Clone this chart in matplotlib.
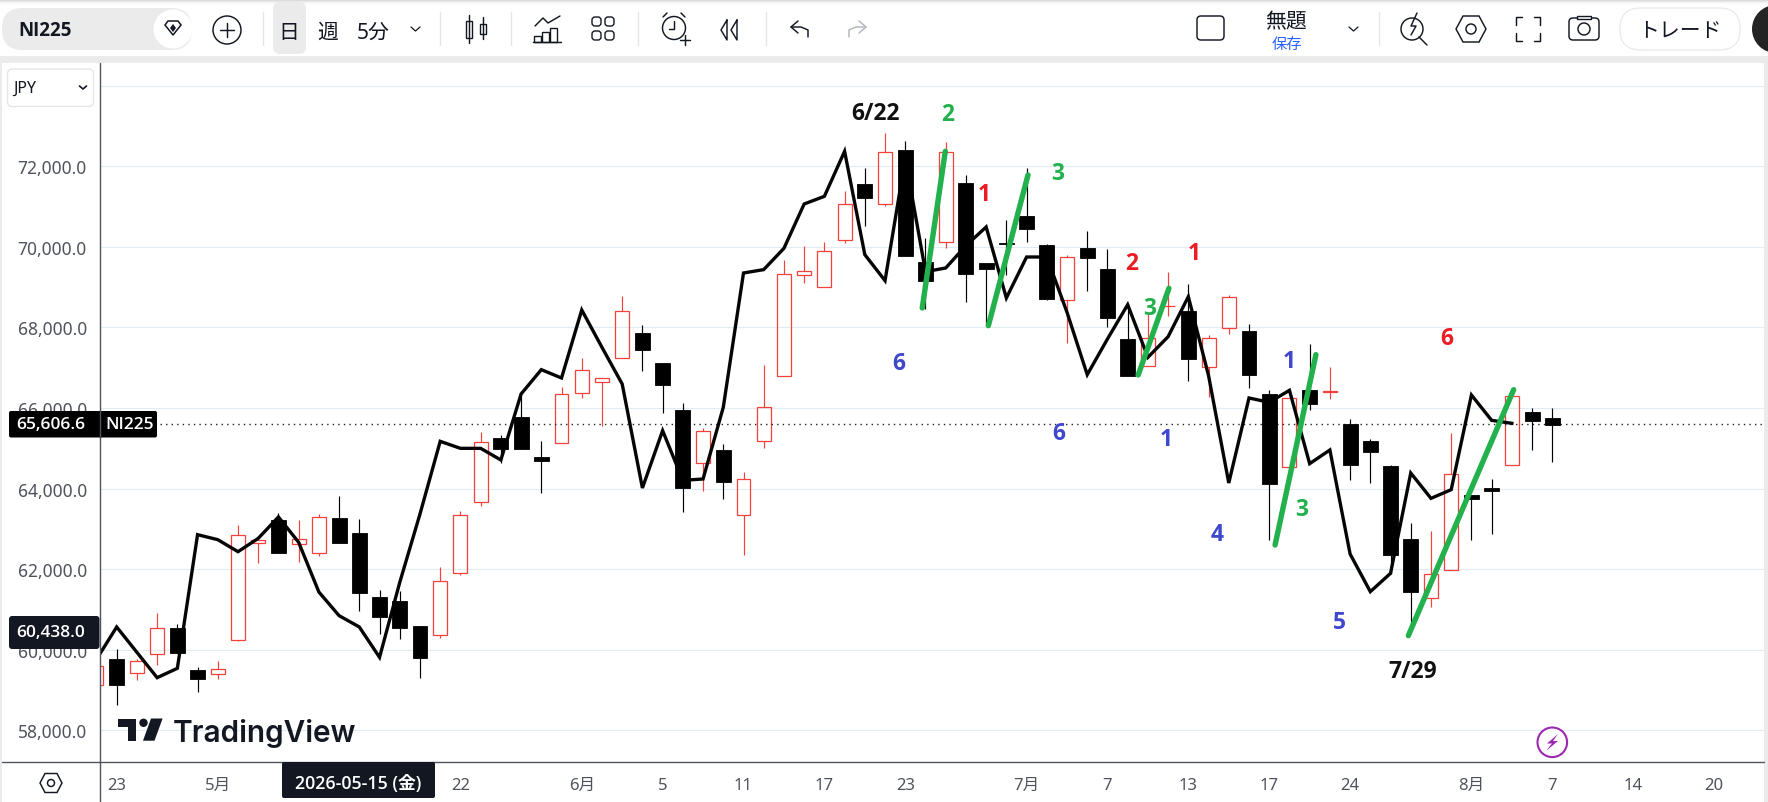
import matplotlib
matplotlib.use("Agg")
import matplotlib.pyplot as plt
from matplotlib.patches import Rectangle, FancyBboxPatch, Circle, Polygon

# ---------- data ----------
bar_index = list(range(-1, 72))
opens = [59118, 59772, 59416, 59887, 60533, 59490, 59391, 60251, 62659, 63221,
         62617, 62394, 63263, 62899, 61302, 61211, 60582, 60375, 61915, 63660,
         65248, 65778, 64777, 65124, 66365, 66638, 67234, 67863, 67118, 65952,
         64628, 64959, 63337, 65174, 66788, 69294, 68997, 70163, 71553, 71057,
         72405, 69625, 70113, 71586, 69600, 70089, 70767, 70047, 68674, 69973,
         69451, 67714, 67036, 68525, 68409, 67011, 67979, 67912, 66349, 64545,
         66448, 66407, 65604, 65182, 64562, 62750, 61277, 61972, 63842, 64016,
         64578, 65894, 65753]
highs = [59600, 60020, 59772, 60913, 60640, 59573, 59714, 63097, 62725, 63395,
         63221, 63370, 63817, 63246, 61484, 61459, 60582, 62055, 63437, 65397,
         65331, 66432, 65174, 66514, 67234, 66738, 68773, 68061, 67118, 66125,
         65505, 65108, 64405, 67069, 69675, 70014, 70113, 71379, 71958, 72827,
         72628, 70221, 72595, 71785, 69600, 70668, 71958, 70064, 69799, 70395,
         69948, 68583, 68376, 69377, 69071, 67813, 68806, 68086, 66440, 66241,
         67590, 67019, 65728, 65232, 64587, 63147, 62949, 65381, 63842, 64239,
         66291, 65993, 65993]
lows = [59100, 58638, 59258, 59631, 59929, 58960, 59275, 60218, 62154, 62411,
        62187, 62336, 62659, 60963, 60392, 60268, 59308, 60301, 61865, 63577,
        64628, 64992, 63892, 65124, 66258, 65563, 67234, 66928, 65877, 63428,
        63950, 63743, 62353, 65017, 66788, 69112, 68997, 70105, 70527, 71023,
        69783, 68459, 69981, 68641, 68045, 69311, 70122, 68690, 67615, 68906,
        68012, 66804, 67036, 68285, 66680, 66283, 67838, 66498, 62725, 64545,
        65952, 66233, 64214, 64140, 61881, 60558, 61071, 61972, 62733, 62882,
        64578, 64967, 64669]
closes = [59590, 59134, 59714, 60533, 59929, 59283, 59515, 62841, 62717, 62411,
          62741, 63287, 62659, 61418, 60822, 60549, 59805, 61699, 63337, 65149,
          64992, 64992, 64694, 66341, 66936, 66738, 68400, 67449, 66580, 64024,
          65422, 64173, 64231, 66018, 69319, 69394, 69890, 71057, 71222, 72347,
          69783, 69162, 72347, 69336, 69451, 70072, 70453, 68715, 69741, 69725,
          68244, 66804, 67731, 68541, 67226, 67730, 68748, 66829, 64115, 66241,
          66109, 66423, 64595, 64918, 62361, 61443, 61873, 64355, 63751, 63950,
          66291, 65687, 65588]

overlay_index = list(range(-1, 70))
overlay_price = [59763, 60566, 59937, 59308, 59540, 62857, 62733, 62435, 62766, 63296,
                 62667, 61434, 60847, 60566, 59813, 61674, 63370, 65174, 65000, 65000,
                 64711, 66349, 66953, 66746, 68434, 67507, 66597, 64016, 65439, 64206,
                 64239, 66018, 69352, 69436, 69965, 71065, 71255, 72372, 69807, 69162,
                 72200, 69385, 69476, 70031, 70494, 68732, 69749, 69749, 68376, 66829,
                 67714, 68566, 67259, 67772, 68765, 66804, 64140, 66250, 66142, 66440,
                 64620, 64959, 62378, 61443, 61898, 64388, 63759, 63974, 66324, 65695,
                 65621]

trend_start_index = [39.84, 43.11, 50.52, 57.29, 63.88]
trend_start_price = [68484, 68045, 66821, 62601, 60351]
trend_end_index = [40.98, 45.07, 52.04, 59.31, 69.09]
trend_end_price = [72372, 71785, 68972, 67325, 66456]

y_ticks = [58000, 60000, 62000, 64000, 66000, 68000, 70000, 72000, 74000]
y_tick_labels = ["58,000.0", "60,000.0", "62,000.0", "64,000.0", "66,000.0",
                 "68,000.0", "70,000.0", "72,000.0", ""]
x_ticks = [0, 5, 17, 23, 27, 31, 35, 39, 45, 49, 53, 57, 61, 67, 71, 75, 79]
x_tick_labels = ["23", "5月", "22", "6月", "5", "11", "17", "23", "7月", "7", "13",
                 "17", "24", "8月", "7", "14", "20"]
last_price = 65606.6
cross_price = 60438.0
symbol = "NI225"
cross_date = "2026-05-15 (金)"

notes_text = ["6/22", "2", "1", "3", "6", "2", "1", "3", "1", "1", "6", "4", "3", "5", "6", "7/29"]
notes_color = ["k", "g", "r", "g", "b", "r", "r", "g", "b", "b", "b", "b", "g", "b", "r", "k"]

# ---------- layout ----------
W, H = 1768, 803
UI = ["Noto Sans", "Noto Sans CJK JP", "DejaVu Sans"]
BOLD = ["Open Sans", "Noto Sans CJK JP", "DejaVu Sans"]
plt.rcParams["font.family"] = UI
fig = plt.figure(figsize=(W / 100, H / 100), dpi=100, facecolor="white")
L, R, T, B = 99.5, 1764, 64, 763
ax = fig.add_axes([L / W, 1 - B / H, (R - L) / W, (B - T) / H], facecolor="white")
ax.set_xlim(-0.85, 81.47)
ax.set_ylim(57215, 74564)
for s in ax.spines.values():
    s.set_visible(False)
ax.set_yticks(y_ticks, y_tick_labels)
ax.set_xticks(x_ticks, x_tick_labels)
ax.tick_params(axis="y", length=0, pad=9, labelsize=12.5, labelcolor="#50535e")
ax.tick_params(axis="x", length=0, pad=11, labelsize=12, labelcolor="#50535e")
ax.grid(axis="y", color="#e2ebf2", lw=0.85, zorder=0)
ax.set_axisbelow(True)

RED, BLACK = "#f5413a", "#000000"
for i, o, h, l, c in zip(bar_index, opens, highs, lows, closes):
    up = c >= o
    col = RED if up else BLACK
    top, bot = max(o, c), min(o, c)
    ax.vlines(i, top, h, color=col, lw=0.85, zorder=2)
    ax.vlines(i, l, bot, color=col, lw=0.85, zorder=2)
    if up:
        ax.bar(i, top - bot, bottom=bot, width=0.69, facecolor="none", edgecolor=col, lw=0.9, zorder=2)
    else:
        ax.bar(i, top - bot, bottom=bot, width=0.74, color=col, lw=0.6, edgecolor=col, zorder=3.5)

ax.plot(overlay_index, overlay_price, color="#050505", lw=2.4, solid_joinstyle="miter", zorder=3)
ax.axhline(last_price, xmin=(160 - L) / (R - L), color="#222222", lw=1.0, ls=(0, (1, 3)), zorder=2.5)
for a, b, c, d in zip(trend_start_index, trend_end_index, trend_start_price, trend_end_price):
    ax.plot([a, b], [c, d], color="#22b14c", lw=3.9, solid_capstyle="round", zorder=4)

# ---------- interface layer (pixel coordinates) ----------
ui = fig.add_axes([0, 0, 1, 1], facecolor="none")
ui.set_xlim(0, W)
ui.set_ylim(H, 0)
ui.axis("off")

def rect(x0, y0, x1, y1, fc, ec="none", lw=0, z=5):
    ui.add_patch(Rectangle((x0, y0), x1 - x0, y1 - y0, fc=fc, ec=ec, lw=lw, zorder=z))

def rrect(x0, y0, x1, y1, r, fc, ec="none", lw=0, z=5):
    ui.add_patch(FancyBboxPatch((x0 + r, y0 + r), x1 - x0 - 2 * r, y1 - y0 - 2 * r,
                                boxstyle=f"round,pad={r},rounding_size={r}", fc=fc, ec=ec, lw=lw, zorder=z))

def stroke(xs, ys, col="#131722", lw=1.05, z=7):
    ui.plot(xs, ys, color=col, lw=lw, zorder=z, solid_capstyle="round", solid_joinstyle="round")

def ring(x, y, r, col="#131722", lw=1.05, fc="none", z=7):
    ui.add_patch(Circle((x, y), r, fc=fc, ec=col, lw=lw, zorder=z))

def label(x, y, s, size=12, col="#131722", ha="center", va="center", weight="normal", z=8, fam=None):
    ui.text(x, y, s, fontsize=size, color=col, ha=ha, va=va, fontweight=weight, zorder=z, family=fam or UI)

# panels
GREY = "#ebebeb"
rect(0, 57, W, 64, GREY, z=4.5)
rect(0, 57, 1.5, H, GREY, z=4.5)
rect(1764, 57, W, H, GREY, z=4.5)
for y, c in zip(range(0, 5), ["#cfcfcf", "#dcdcdc", "#e8e8e8", "#f3f3f3", "#fafafa"]):
    rect(0, y, W, y + 1, c)
# axis frame
stroke([L, L], [64, H], "#50535e", 1.0, 6)
stroke([1.5, 1764], [B, B], "#50535e", 1.0, 6)

# toolbar left
rrect(2, 9, 192, 51, 20.5, GREY)
ring(173, 30, 19.5, "none", 0, "white", 5.5)
label(18.5, 31, symbol, 13.5, ha="left", weight="bold", fam=BOLD)
ui.add_patch(Polygon([(165, 26), (168, 22), (178, 22), (181, 26), (173, 36)], closed=True, fc="none", ec="#131722", lw=1.1, zorder=7))
ui.add_patch(Polygon([(173, 25), (176, 29), (173, 33), (170, 29)], closed=True, fc="#131722", zorder=7))
ring(227, 31, 14)
stroke([220, 234], [31, 31]); stroke([227, 227], [24, 38])
for x in (263, 440, 511, 638, 765.5, 1379):
    stroke([x, x], [13, 46], "#e6e6e6", 1.0)
rrect(273, 3, 306, 55, 7, GREY)
label(289, 33, "日", 15)
label(328, 33, "週", 15)
label(373, 33, "5分", 15)
stroke([411, 415.5, 420], [28, 32, 28], lw=0.9)
# candle icon
stroke([469, 469], [16, 44]); rect(466, 22, 472, 39, "none", "#131722", 1.0, 7)
stroke([483, 483], [18, 40]); rect(480, 25, 486, 35, "none", "#131722", 1.0, 7)
# indicators icon
stroke([535, 543, 548, 560], [27, 19, 24, 17])
for x0, y0 in [(534, 37), (542, 33), (550, 29)]:
    rect(x0, y0, x0 + 7, 43, "none", "#131722", 1.0, 7)
stroke([533, 561], [43, 43])
# layout grid
for x0, y0 in [(592, 18), (605, 18), (592, 32), (605, 32)]:
    rrect(x0, y0, x0 + 9, y0 + 9, 3, "none", "#131722", 1.0, 7)
# alarm
ring(674, 29, 11.5)
stroke([674, 674, 669], [22, 30, 30])
stroke([663, 667], [18, 14]); stroke([685, 681], [18, 14])
rect(678, 33, 692, 48, "white", z=6.5)
stroke([680, 690], [41, 41]); stroke([685, 685], [36, 46])
# rewind
stroke([727, 721, 727, 727], [21, 31, 41, 21]); stroke([737, 731, 737, 737], [21, 31, 41, 21])
# undo / redo
stroke([798, 791, 798], [22, 28, 34])
stroke([791, 801, 808, 808], [28, 28, 31, 38])
stroke([859, 866, 859], [22, 28, 34], "#b2b5be")
stroke([866, 856, 849, 849], [28, 28, 31, 38], "#b2b5be")

# toolbar right
rrect(1197, 17, 1224, 41, 4, "none", "#131722", 1.05, 7)
label(1286.5, 23, "無題", 15)
label(1286.5, 45, "保存", 11, "#2962ff")
stroke([1349, 1353.5, 1358], [28, 32, 28], lw=0.9)
ring(1412, 30, 11)
stroke([1419, 1427], [38, 46])
stroke([1417, 1411, 1416, 1411], [14, 27, 27, 36])
ui.add_patch(Polygon([(1463, 17), (1479, 17), (1486, 30), (1479, 43), (1463, 43), (1456, 30)],
                     closed=True, fc="none", ec="#131722", lw=1.05, zorder=7))
ring(1471, 30, 5)
for sx, sy in [(-1, -1), (1, -1), (-1, 1), (1, 1)]:
    stroke([1528 + sx * 12, 1528 + sx * 12, 1528 + sx * 6], [30 + sy * 4, 30 + sy * 12, 30 + sy * 12])
rrect(1569, 19, 1599, 41, 4, "none", "#131722", 1.05, 7)
rect(1577, 17, 1591, 20, "white", "#131722", 1.0, 7)
ring(1584, 30, 6)
rrect(1620, 9, 1740, 51, 20.5, "white", "#ebebeb", 1.0)
label(1680, 31, "トレード", 15)
ring(1776, 30, 24, "none", 0, "#242424", 6)

# currency box
rrect(7.5, 70, 93.5, 107.5, 5, "white", "#e6e6e6", 1.0)
label(13, 88.5, "JPY", 11.5, ha="left")
stroke([79.5, 83, 86.5], [87, 90, 87], lw=1.2)

# price labels
rrect(9, 412, 157, 438.5, 2, "#000000", z=6)
label(51, 425, "65,606.6", 12.5, "white", weight="semibold", fam=BOLD)
label(130, 425.5, symbol, 12.5, "white", weight="semibold", fam=BOLD)
rrect(9, 617, 99.5, 650, 3, "#131722", z=6)
label(51, 633, f"{cross_price:,.1f}", 12.5, "white", weight="semibold", fam=BOLD)
stroke([L, L], [412, 438.5], "#50535e", 1.0, 7)

# date label
rrect(282, 763, 435, 799, 2, "#131722", z=6)
label(358.5, 784, cross_date, 12.8, "white", weight="semibold", fam=BOLD)

# settings icon
ui.add_patch(Polygon([(45, 774.5), (57, 774.5), (62, 784), (57, 793.5), (45, 793.5), (40, 784)], closed=True,
                     fc="none", ec="#131722", lw=1.05, zorder=7))
ring(51, 784, 3.5)

# logo
LOGO = "#131722"
ui.add_patch(Polygon([(118, 719.5), (136, 719.5), (136, 741.7), (127.5, 741.7), (127.5, 727.5), (118, 727.5)],
                     closed=True, fc=LOGO, zorder=7))
ui.add_patch(Circle((143.5, 723.8), 4.2, fc=LOGO, zorder=7))
ui.add_patch(Polygon([(151, 719.5), (162.6, 719.5), (154.5, 741.7), (143, 741.7)], closed=True, fc=LOGO, zorder=7))
ui.text(173, 741.7, "TradingView", fontsize=21.4, color=LOGO, ha="left", va="baseline",
        fontweight="semibold", family="Inter", zorder=7)

# bolt badge
ring(1552.3, 743.3, 14.8, "#9c27b0", 1.5, "white")
ui.add_patch(Polygon([(1558, 735), (1547, 744.5), (1552, 744.5), (1546, 752), (1558, 742), (1553, 742)],
                     closed=True, fc="#9c27b0", zorder=8))

# hand-written notes
PALETTE = {"k": "#111111", "g": "#22b14c", "r": "#ed1c24", "b": "#3f48cc"}
note_xy = [(875.7, 111.7), (948, 112.7), (984, 192.7), (1058, 171.7), (899, 361.7), (1131.7, 261.7),
           (1194.7, 251.7), (1149.3, 306.7), (1289.3, 360), (1166.7, 438.3), (1058.8, 431.9),
           (1216.7, 532.7), (1301.3, 507.7), (1339.6, 621.3), (1446.7, 336.7), (1412.7, 670)]
for (x, y), s, c in zip(note_xy, notes_text, notes_color):
    label(x, y + 2, s, 16.5, PALETTE[c], weight="bold", fam="Open Sans")

fig.savefig("out.png", dpi=100)
